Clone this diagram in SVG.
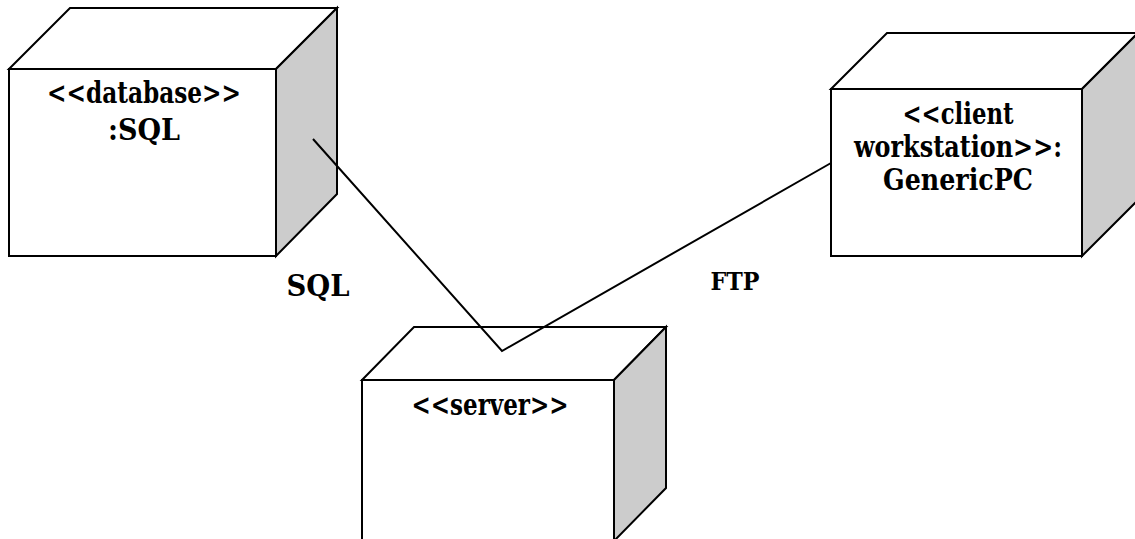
<svg xmlns="http://www.w3.org/2000/svg" width="1135" height="539" viewBox="0 0 1135 539">
<style>
.face{fill:#ffffff;stroke:#000;stroke-width:2;stroke-linejoin:miter}
.side{fill:#cccccc;stroke:#000;stroke-width:2}
.conn{fill:none;stroke:#000;stroke-width:2}
.t{font-family:'DejaVu Serif','Liberation Serif',serif;font-weight:bold;font-size:29px;text-anchor:middle;fill:#000}
.s{font-size:24px}
</style>
<rect width="1135" height="539" fill="#fff"/>
<g id="node-database">
<polygon class="face" points="9,69 70,8 337,8 276,69"/>
<polygon class="side" points="276,69 337,8 337,194 276,256"/>
<rect class="face" x="9" y="69" width="267" height="187"/>
<text class="t" x="144" y="103" textLength="194" lengthAdjust="spacingAndGlyphs">&lt;&lt;database&gt;&gt;</text>
<text class="t" x="144" y="140" textLength="72" lengthAdjust="spacingAndGlyphs">:SQL</text>
</g>
<g id="node-client">
<polygon class="face" points="831,89 887,33 1138,33 1082,89"/>
<polygon class="side" points="1082,89 1138,33 1138,200 1082,256"/>
<rect class="face" x="831" y="89" width="251" height="167"/>
<text class="t" x="958" y="124" textLength="111" lengthAdjust="spacingAndGlyphs">&lt;&lt;client</text>
<text class="t" x="958" y="157" textLength="208" lengthAdjust="spacingAndGlyphs">workstation&gt;&gt;:</text>
<text class="t" x="958" y="190" textLength="150" lengthAdjust="spacingAndGlyphs">GenericPC</text>
</g>
<g id="node-server">
<polygon class="face" points="362,380 414,327 666,327 614,380"/>
<polygon class="side" points="614,380 666,327 666,488 614,541"/>
<rect class="face" x="362" y="380" width="252" height="170"/>
<text class="t" x="490" y="415" textLength="157" lengthAdjust="spacingAndGlyphs">&lt;&lt;server&gt;&gt;</text>
</g>
<g id="connectors">
<polyline class="conn" points="313,139 502,351 831,163"/>
</g>
<g id="labels">
<text class="t" x="318" y="296" textLength="63" lengthAdjust="spacingAndGlyphs">SQL</text>
<text class="t s" x="735" y="290" textLength="49" lengthAdjust="spacingAndGlyphs">FTP</text>
</g>
</svg>
